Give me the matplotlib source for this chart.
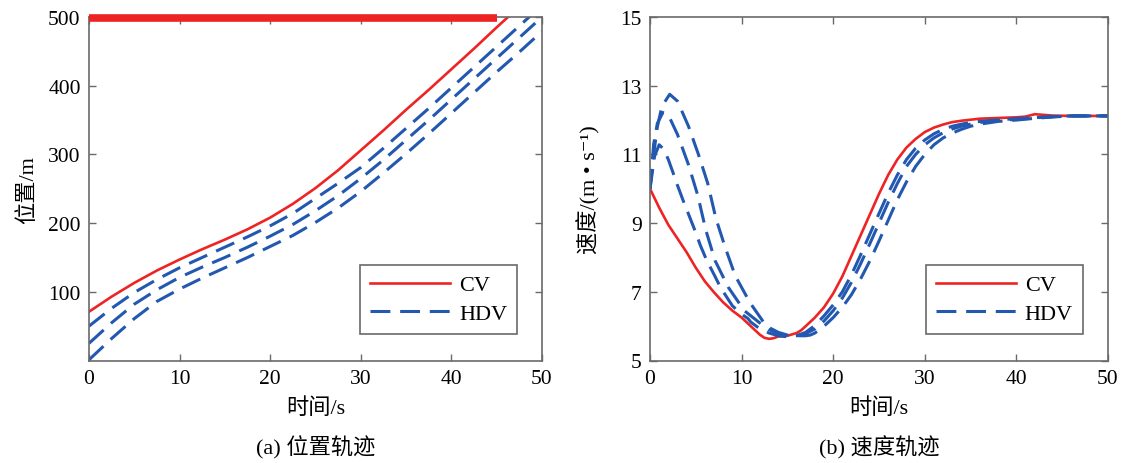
import matplotlib
matplotlib.use("Agg")
import matplotlib.pyplot as plt

plt.rcParams['font.family'] = ['Liberation Serif', 'Noto Sans CJK SC', 'DejaVu Sans']

# ---------------- data ----------------
# (a) position trajectories
t_pos = [0, 2.5, 5, 7.5, 10, 12.5, 15, 17.5, 20, 22.5, 25, 27.5, 30, 32.5, 35, 37.5, 40, 42.5, 45, 47.5, 50]
cv_pos = [71, 93, 113, 131, 147, 162, 176, 191, 208, 228, 251, 277, 306, 335, 365, 394, 424, 454, 485, 515, 545]
hdv1_pos = [50, 76, 99, 118, 135, 150, 165, 180, 196, 214, 236, 258, 281, 309, 338, 367, 397, 427, 457, 487, 517]
hdv2_pos = [25, 55, 82, 103, 121, 136, 150, 165, 181, 198, 218, 240, 265, 292, 321, 350, 380, 410, 440, 470, 500]
hdv3_pos = [1, 32, 61, 86, 104, 120, 135, 150, 166, 182, 201, 222, 246, 273, 301, 330, 360, 390, 420, 449, 479]
stop_line_x = [0, 45]
stop_line_y = [498, 498]

# (b) speed trajectories
t_cv = [0, 1, 2, 3, 4, 5, 6, 7, 8, 9, 10, 11, 12, 12.5, 13, 13.5, 14, 15, 16, 16.5, 17, 18, 19, 20,
        21, 22, 23, 24, 25, 26, 27, 28, 29, 30, 31, 32, 33, 34, 36, 38, 40, 41, 42, 43, 44, 46, 50]
cv_v = [10.0, 9.45, 8.95, 8.55, 8.15, 7.7, 7.3, 6.98, 6.69, 6.45, 6.25, 6.0, 5.75, 5.66, 5.63, 5.65, 5.7,
        5.72, 5.8, 5.88, 6.0, 6.25, 6.55, 6.95, 7.45, 8.05, 8.65, 9.25, 9.85, 10.4, 10.85, 11.2, 11.45,
        11.65, 11.78, 11.87, 11.94, 11.98, 12.04, 12.06, 12.08, 12.1, 12.17, 12.15, 12.13, 12.12, 12.12]

t_h1 = [0, 0.5, 1, 1.5, 2, 2.5, 3, 3.6, 4, 4.9, 5.5, 6.2, 7, 7.6, 8, 9, 10, 10.7, 11, 12, 13, 14, 15, 16,
        17, 18, 19, 20, 21, 22, 23, 24, 25, 26, 27, 28, 29, 30, 31, 32, 33, 34, 35, 36, 38, 40, 42, 44, 46, 50]
hdv1_v = [10.0, 10.95, 11.28, 11.15, 10.85, 10.48, 10.1, 9.67, 9.4, 8.79, 8.35, 7.91, 7.5, 7.18, 7.0, 6.59,
          6.35, 6.22, 6.12, 5.92, 5.8, 5.72, 5.69, 5.72, 5.82, 6.02, 6.3, 6.62, 7.0, 7.5, 8.08, 8.68, 9.28,
          9.87, 10.4, 10.85, 11.18, 11.42, 11.6, 11.73, 11.82, 11.88, 11.93, 11.96, 12.01, 12.04, 12.07,
          12.1, 12.12, 12.12]

t_h2 = [0, 0.4, 0.8, 1.4, 2, 3, 4.2, 5.2, 6.1, 7.1, 8.55, 10.3, 12, 13, 14, 15, 16, 17, 18, 19, 20, 21, 22,
        23, 24, 25, 26, 27, 28, 29, 30, 31, 32, 33, 34, 35, 36, 38, 40, 42, 44, 46, 50]
hdv2_v = [10.0, 11.3, 11.9, 12.22, 12.15, 11.58, 10.7, 9.82, 8.79, 7.91, 7.13, 6.45, 6.09, 5.9, 5.78, 5.72,
          5.72, 5.78, 5.92, 6.15, 6.45, 6.82, 7.28, 7.82, 8.4, 9.0, 9.6, 10.15, 10.65, 11.0, 11.28, 11.48,
          11.63, 11.74, 11.82, 11.88, 11.93, 11.99, 12.02, 12.06, 12.1, 12.12, 12.12]

t_h3 = [0, 0.4, 0.8, 1.3, 2.15, 3, 4.2, 5.3, 6.3, 7.2, 8.2, 9.3, 10.9, 12.7, 14, 15, 16, 17, 17.5, 18, 19,
        20, 21, 22, 23, 24, 25, 26, 27, 28, 29, 30, 31, 32, 33, 34, 35, 36, 38, 40, 42, 44, 46, 50]
hdv3_v = [10.0, 11.0, 11.8, 12.4, 12.75, 12.55, 11.82, 10.99, 10.16, 9.13, 8.3, 7.47, 6.69, 6.0, 5.82, 5.74,
          5.72, 5.72, 5.74, 5.8, 6.0, 6.25, 6.55, 6.92, 7.38, 7.9, 8.48, 9.08, 9.68, 10.2, 10.65, 11.0,
          11.28, 11.48, 11.62, 11.73, 11.82, 11.88, 11.96, 12.0, 12.05, 12.09, 12.12, 12.12]

x_ticks = [0, 10, 20, 30, 40, 50]
pos_ticks = [100, 200, 300, 400, 500]
v_ticks = [5, 7, 9, 11, 13, 15]

# ---------------- style ----------------
RED = '#ee2424'
BLUE = '#2258b0'
SPINE = '#6a6a6a'
DASH = (6.5, 3.2)
FS_TICK = 15.5
FS = 16

fig = plt.figure(figsize=(11.23, 4.64), dpi=100)
ax1 = fig.add_axes([89 / 1123, (464 - 361.5) / 464, 453 / 1123, 343.5 / 464])
ax2 = fig.add_axes([650 / 1123, (464 - 361.5) / 464, 458 / 1123, 343.5 / 464])


def style(ax):
    for s in ax.spines.values():
        s.set_color(SPINE)
        s.set_linewidth(1.2)
    ax.tick_params(direction='in', top=True, right=True, length=5, width=1,
                   color=SPINE, labelsize=FS_TICK, pad=6)
    ax.set_xticks(x_ticks)
    ax.set_xlim(0, 50)


# (a)
ax1.plot(stop_line_x, stop_line_y, color=RED, lw=5.5, solid_capstyle='butt', clip_on=False, zorder=5)
ax1.plot(t_pos, cv_pos, color=RED, lw=1.9, label='CV')
ax1.plot(t_pos, hdv1_pos, color=BLUE, lw=2.2, dashes=DASH, label='HDV')
ax1.plot(t_pos, hdv2_pos, color=BLUE, lw=2.2, dashes=DASH)
ax1.plot(t_pos, hdv3_pos, color=BLUE, lw=2.2, dashes=DASH)
style(ax1)
ax1.set_ylim(0, 500)
ax1.set_yticks(pos_ticks)
ax1.set_xlabel('时间/s', fontsize=FS, labelpad=7)
ax1.set_ylabel('位置/m', fontsize=FS, labelpad=7)

# (b)
ax2.plot(t_cv, cv_v, color=RED, lw=1.9, label='CV')
ax2.plot(t_h1, hdv1_v, color=BLUE, lw=2.2, dashes=DASH, label='HDV')
ax2.plot(t_h2, hdv2_v, color=BLUE, lw=2.2, dashes=DASH)
ax2.plot(t_h3, hdv3_v, color=BLUE, lw=2.2, dashes=DASH)
style(ax2)
ax2.set_ylim(5, 15)
ax2.set_yticks(v_ticks)
ax2.set_xlabel('时间/s', fontsize=FS, labelpad=7)
ax2.set_ylabel('速度/(m • s⁻¹)', fontsize=FS, labelpad=14)

for ax in (ax1, ax2):
    leg = ax.legend(loc='lower right', bbox_to_anchor=(0.945, 0.078), borderaxespad=0,
                    fontsize=FS, handlelength=3.6, handletextpad=0.4, labelspacing=0.35,
                    fancybox=False, framealpha=1, edgecolor=SPINE, borderpad=0.45)
    leg.get_frame().set_linewidth(1.2)

fig.text(316 / 1123, 1 - 448 / 464, '(a) 位置轨迹', fontsize=FS, ha='center', va='center')
fig.text(879 / 1123, 1 - 448 / 464, '(b) 速度轨迹', fontsize=FS, ha='center', va='center')

fig.savefig('out.png', dpi=100)
